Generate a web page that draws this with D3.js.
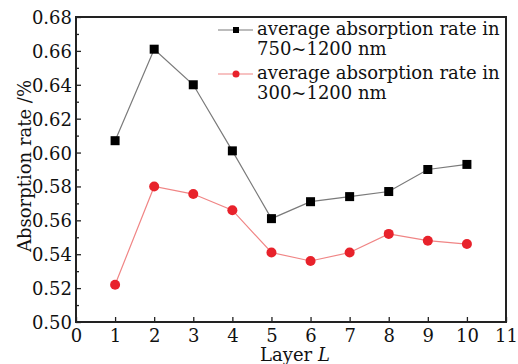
<!DOCTYPE html>
<html>
<head>
<meta charset="utf-8">
<script src="https://cdn.jsdelivr.net/npm/d3@7"></script>
<style>
  body { margin: 0; background: #fff; }
  svg text { font-family: "DejaVu Serif", serif; fill: #111; }
</style>
</head>
<body>
<script>
const width = 518;
const height = 364;
const margin = { top: 17, right: 12, bottom: 42, left: 76 };

const layers = [1, 2, 3, 4, 5, 6, 7, 8, 9, 10];
const rate750 = [0.607, 0.661, 0.64, 0.601, 0.561, 0.571, 0.574, 0.577, 0.59, 0.593];
const rate300 = [0.522, 0.58, 0.5755, 0.566, 0.541, 0.536, 0.541, 0.552, 0.548, 0.546];
const xTicks = [0, 1, 2, 3, 4, 5, 6, 7, 8, 9, 10, 11];
const yTicks = [0.5, 0.52, 0.54, 0.56, 0.58, 0.6, 0.62, 0.64, 0.66, 0.68];
const legendLines = [
  ["average absorption rate in", "750~1200 nm"],
  ["average absorption rate in", "300~1200 nm"],
];

const x = d3.scaleLinear().domain([0, 11]).range([margin.left, width - margin.right]);
const y = d3.scaleLinear().domain([0.5, 0.68]).range([height - margin.bottom, margin.top]);

const svg = d3.select("body").append("svg").attr("width", width).attr("height", height);

// axes, ticks pointing inward
const yAxis = svg.append("g")
  .attr("transform", `translate(${margin.left},0)`)
  .call(d3.axisLeft(y).tickValues(yTicks).tickFormat(d3.format(".2f")).tickSize(-5).tickPadding(4));
const yMinor = svg.append("g")
  .attr("transform", `translate(${margin.left},0)`)
  .call(d3.axisLeft(y).tickValues(d3.range(9).map((i) => 0.51 + i * 0.02)).tickSize(-3).tickFormat(""));
const xAxis = svg.append("g")
  .attr("transform", `translate(0,${height - margin.bottom})`)
  .call(d3.axisBottom(x).tickValues(xTicks).tickFormat(d3.format("d")).tickSize(-5).tickPadding(7));

[yAxis, yMinor, xAxis].forEach((g) => {
  g.attr("font-family", null);
  g.select(".domain").remove();
  g.selectAll("line").attr("stroke", "#222").attr("stroke-width", 1.3);
  g.selectAll("text").attr("font-size", 18).attr("fill", "#111");
});
yAxis.selectAll("text").attr("dy", "0.36em");
xAxis.selectAll("text").attr("dy", "0.71em");

// frame
svg.append("rect")
  .attr("x", margin.left)
  .attr("y", margin.top)
  .attr("width", width - margin.left - margin.right)
  .attr("height", height - margin.top - margin.bottom)
  .attr("fill", "none")
  .attr("stroke", "#222")
  .attr("stroke-width", 2);

// series
const series = [
  { values: rate750, line: "#7a7a7a", mark: "#000", shape: "square" },
  { values: rate300, line: "#f08585", mark: "#e8222b", shape: "circle" },
];

const line = d3.line().x((d) => x(d[0])).y((d) => y(d[1]));

series.forEach((s) => {
  const pts = layers.map((l, i) => [l, s.values[i]]);
  svg.append("path")
    .datum(pts)
    .attr("d", line)
    .attr("fill", "none")
    .attr("stroke", s.line)
    .attr("stroke-width", 1.2);
  if (s.shape == "square") {
    svg.selectAll(null).data(pts).join("rect")
      .attr("x", (d) => x(d[0]) - 4.5)
      .attr("y", (d) => y(d[1]) - 4.5)
      .attr("width", 9)
      .attr("height", 9)
      .attr("fill", s.mark);
  } else {
    svg.selectAll(null).data(pts).join("circle")
      .attr("cx", (d) => x(d[0]))
      .attr("cy", (d) => y(d[1]))
      .attr("r", 5)
      .attr("fill", s.mark);
  }
});

// legend
const legend = svg.append("g").attr("transform", "translate(218,30)");
series.forEach((s, i) => {
  const g = legend.append("g").attr("transform", `translate(0,${i * 44})`);
  g.append("line").attr("x1", 0).attr("x2", 35).attr("stroke", s.line).attr("stroke-width", 1.2);
  if (s.shape == "square") {
    g.append("rect").attr("x", 15).attr("y", -3).attr("width", 6).attr("height", 6).attr("fill", s.mark);
  } else {
    g.append("circle").attr("cx", 18).attr("r", 3.5).attr("fill", s.mark);
  }
  legendLines[i].forEach((t, j) => {
    g.append("text")
      .attr("x", 39)
      .attr("y", 5 + j * 20)
      .attr("font-size", 18)
      .text(t);
  });
});

// axis titles
svg.append("text")
  .attr("transform", "translate(31,166) rotate(-90)")
  .attr("text-anchor", "middle")
  .attr("font-size", 18)
  .text("Absorption rate /%");

const xt = svg.append("text")
  .attr("x", 295)
  .attr("y", 361)
  .attr("text-anchor", "middle")
  .attr("font-size", 18);
xt.append("tspan").text("Layer ");
xt.append("tspan").attr("font-style", "italic").text("L");
</script>
</body>
</html>
